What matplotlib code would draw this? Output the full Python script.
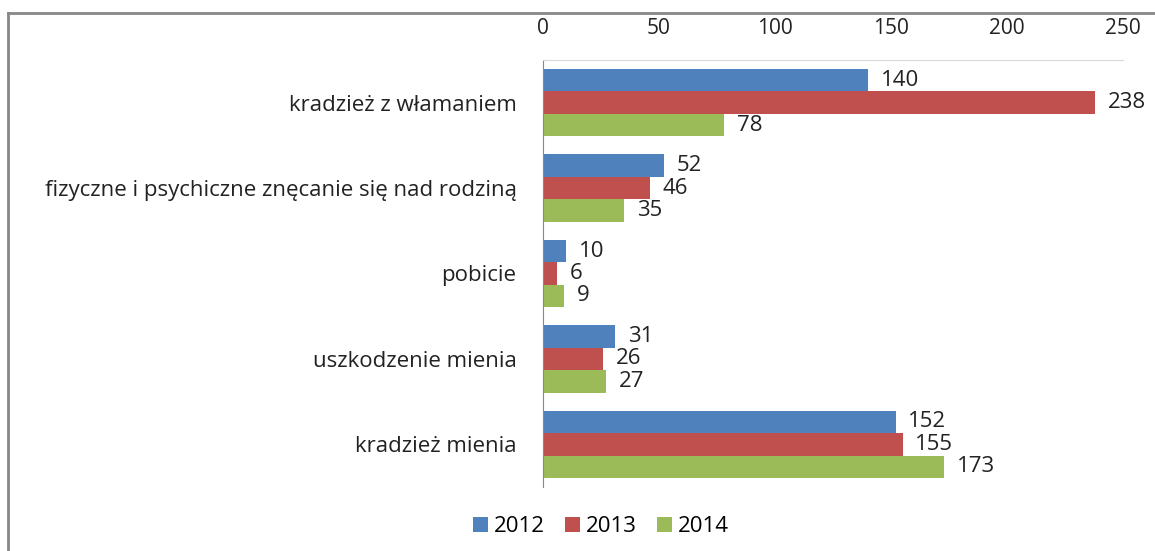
import numpy as np
import matplotlib
matplotlib.use('Agg')
import matplotlib.pyplot as plt
from matplotlib.lines import Line2D

# data
categories = ['kradzież z włamaniem',
              'fizyczne i psychiczne znęcanie się nad rodziną',
              'pobicie',
              'uszkodzenie mienia',
              'kradzież mienia']
years = ['2012', '2013', '2014']
v2012 = [140, 52, 10, 31, 152]
v2013 = [238, 46, 6, 26, 155]
v2014 = [78, 35, 9, 27, 173]
colors = ['#4F81BD', '#C0504D', '#9BBB59']

plt.rcParams['font.family'] = ['Open Sans', 'DejaVu Sans']

W, H = 1155, 551
fig = plt.figure(figsize=(W / 100, H / 100), dpi=100)
ax = fig.add_axes([543 / W, 1 - 487 / H, (1123 - 543) / W, (487 - 60) / H])

y = np.arange(len(categories))
bh = 0.263
series = [v2012, v2013, v2014]
for i, (vals, col, yr) in enumerate(zip(series, colors, years)):
    pos = y + (i - 1) * bh
    ax.barh(pos, vals, height=bh, color=col, label=yr)
    for p, v in zip(pos, vals):
        ax.text(v + 5.5, p, str(v), va='center', ha='left', fontsize=16, color='#222222')

ax.set_xlim(0, 250)
ax.set_ylim(len(categories) - 0.5, -0.5)
ax.set_yticks(y)
ax.set_yticklabels(categories, fontsize=16, color='#222222')
ax.set_xticks(np.arange(0, 251, 50))
ax.xaxis.tick_top()
ax.tick_params(axis='x', length=0, labelsize=15, labelcolor='#222222', pad=15)
ax.tick_params(axis='y', length=0, pad=19)
for s in ['right', 'bottom']:
    ax.spines[s].set_visible(False)
ax.spines['top'].set_color('#d9d9d9')
ax.spines['left'].set_color('#888888')

fig.legend(loc='center', bbox_to_anchor=(601 / W, 1 - 527 / H), ncol=3,
           frameon=False, fontsize=16, handlelength=0.68, handleheight=0.68,
           handletextpad=0.27, columnspacing=0.9)

# outer frame
fig.add_artist(Line2D([8 / W, 1], [1 - 13 / H, 1 - 13 / H], color='#888888', lw=2))
fig.add_artist(Line2D([8 / W, 8 / W], [0, 1 - 13 / H], color='#888888', lw=2))

fig.savefig('out.png', dpi=100)
